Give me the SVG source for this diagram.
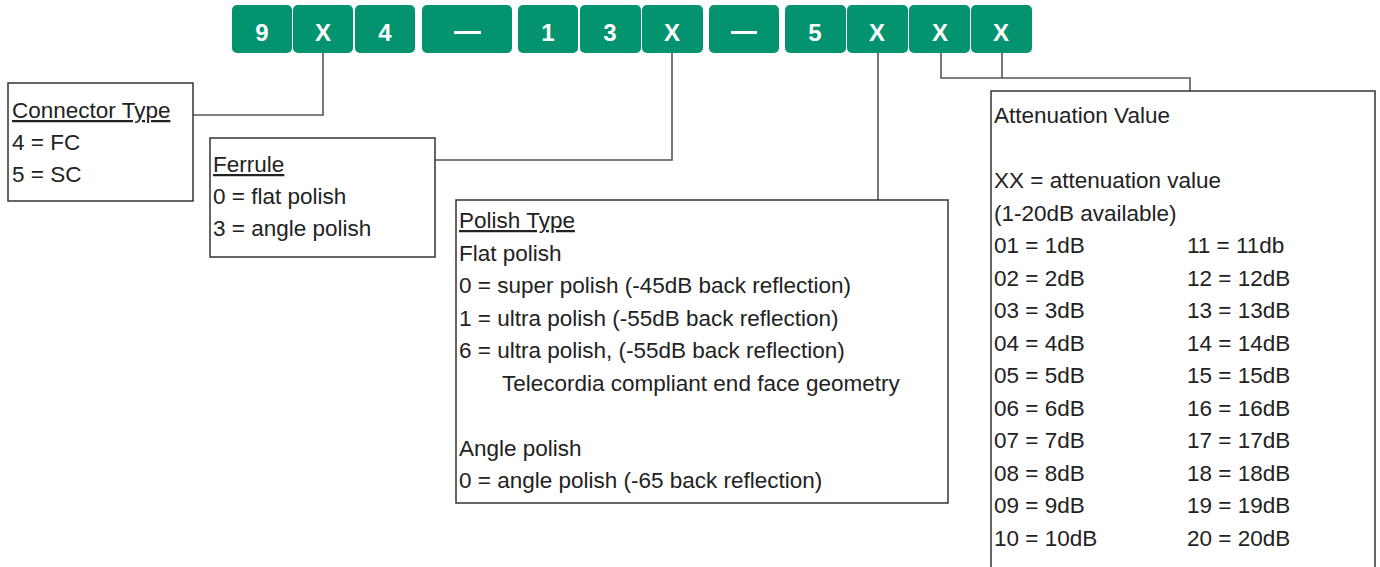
<svg xmlns="http://www.w3.org/2000/svg" width="1380" height="567" viewBox="0 0 1380 567">
<style>
.seg{fill:#03946f}
.segt{fill:#fff;font-family:"Liberation Sans",Arial,sans-serif;font-weight:bold;font-size:24px;text-anchor:middle}
.dash{fill:#fff}
.box{fill:#fff;stroke:#333;stroke-width:1.5}
.conn{fill:none;stroke:#555;stroke-width:1.6}
.t{font-family:"Liberation Sans",Arial,sans-serif;font-size:22.5px;fill:#222}
.u{text-decoration:underline}
</style>
<rect width="1380" height="567" fill="#fff"/>
<g id="code">
<rect class="seg" x="232" y="5" width="60" height="48" rx="5"/><text class="segt" x="262" y="41">9</text>
<rect class="seg" x="293" y="5" width="60" height="48" rx="5"/><text class="segt" x="323" y="41">X</text>
<rect class="seg" x="355" y="5" width="60" height="48" rx="5"/><text class="segt" x="385" y="41">4</text>
<rect class="seg" x="422" y="5" width="90" height="48" rx="5"/><rect class="dash" x="454" y="31" width="27" height="3"/>
<rect class="seg" x="518" y="5" width="60" height="48" rx="5"/><text class="segt" x="548" y="41">1</text>
<rect class="seg" x="580" y="5" width="61" height="48" rx="5"/><text class="segt" x="610" y="41">3</text>
<rect class="seg" x="642" y="5" width="61" height="48" rx="5"/><text class="segt" x="672" y="41">X</text>
<rect class="seg" x="709" y="5" width="70" height="48" rx="5"/><rect class="dash" x="731" y="31" width="26" height="3"/>
<rect class="seg" x="785" y="5" width="61" height="48" rx="5"/><text class="segt" x="815" y="41">5</text>
<rect class="seg" x="847" y="5" width="61" height="48" rx="5"/><text class="segt" x="877" y="41">X</text>
<rect class="seg" x="909" y="5" width="61" height="48" rx="5"/><text class="segt" x="940" y="41">X</text>
<rect class="seg" x="971" y="5" width="61" height="48" rx="5"/><text class="segt" x="1001" y="41">X</text>
</g>
<g id="connectors">
<path class="conn" d="M323 53 V115 H193"/>
<path class="conn" d="M672 53 V160 H435"/>
<path class="conn" d="M878 53 V200"/>
<path class="conn" d="M941 53 V78 H1190 V91"/>
<path class="conn" d="M1002 53 V78"/>
</g>
<g id="connector-type">
<rect class="box" x="8" y="83" width="185" height="118"/>
<text class="t u" x="12" y="118">Connector Type</text>
<text class="t" x="12" y="150">4 = FC</text>
<text class="t" x="12" y="182">5 = SC</text>
</g>
<g id="ferrule">
<rect class="box" x="210" y="138" width="225" height="119"/>
<text class="t u" x="213" y="172">Ferrule</text>
<text class="t" x="213" y="204">0 = flat polish</text>
<text class="t" x="213" y="236">3 = angle polish</text>
</g>
<g id="polish-type">
<rect class="box" x="456" y="200" width="492" height="303"/>
<text class="t u" x="459" y="228">Polish Type</text>
<text class="t" x="459" y="260.5">Flat polish</text>
<text class="t" x="459" y="293">0 = super polish (-45dB back reflection)</text>
<text class="t" x="459" y="325.5">1 = ultra polish (-55dB back reflection)</text>
<text class="t" x="459" y="358">6 = ultra polish, (-55dB back reflection)</text>
<text class="t" x="502" y="390.5">Telecordia compliant end face geometry</text>
<text class="t" x="459" y="455.5">Angle polish</text>
<text class="t" x="459" y="488">0 = angle polish (-65 back reflection)</text>
</g>
<g id="attenuation">
<rect class="box" x="991" y="91" width="384" height="490"/>
<text class="t" x="994" y="123">Attenuation Value</text>
<text class="t" x="994" y="188">XX = attenuation value</text>
<text class="t" x="994" y="220.5">(1-20dB available)</text>
<text class="t" x="994" y="253">01 = 1dB</text>
<text class="t" x="994" y="285.5">02 = 2dB</text>
<text class="t" x="994" y="318">03 = 3dB</text>
<text class="t" x="994" y="350.5">04 = 4dB</text>
<text class="t" x="994" y="383">05 = 5dB</text>
<text class="t" x="994" y="415.5">06 = 6dB</text>
<text class="t" x="994" y="448">07 = 7dB</text>
<text class="t" x="994" y="480.5">08 = 8dB</text>
<text class="t" x="994" y="513">09 = 9dB</text>
<text class="t" x="994" y="545.5">10 = 10dB</text>
<text class="t" x="1187" y="253">11 = 11db</text>
<text class="t" x="1187" y="285.5">12 = 12dB</text>
<text class="t" x="1187" y="318">13 = 13dB</text>
<text class="t" x="1187" y="350.5">14 = 14dB</text>
<text class="t" x="1187" y="383">15 = 15dB</text>
<text class="t" x="1187" y="415.5">16 = 16dB</text>
<text class="t" x="1187" y="448">17 = 17dB</text>
<text class="t" x="1187" y="480.5">18 = 18dB</text>
<text class="t" x="1187" y="513">19 = 19dB</text>
<text class="t" x="1187" y="545.5">20 = 20dB</text>
</g>
</svg>
